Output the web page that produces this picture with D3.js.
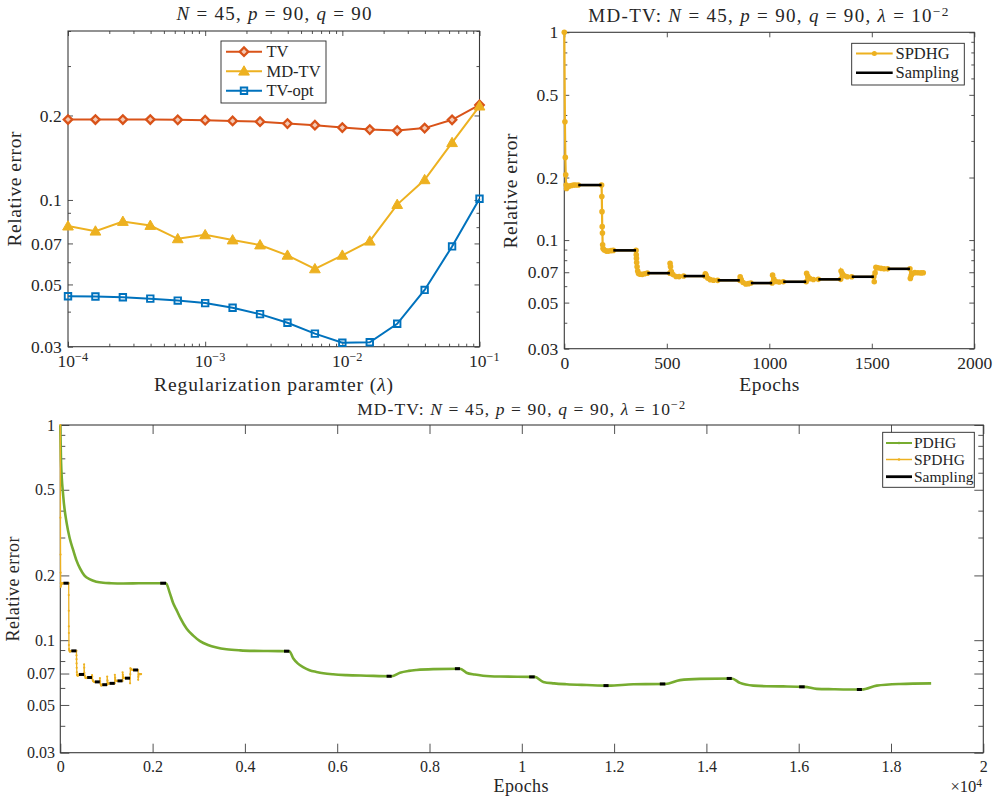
<!DOCTYPE html>
<html><head><meta charset="utf-8">
<script src="https://cdn.jsdelivr.net/npm/d3@7"></script>
<style>body{margin:0;background:#fff} svg{display:block} text{font-family:"Liberation Serif",serif;fill:#262626}</style>
</head><body><svg id="c" width="997" height="799"></svg>
<script>
// ---------------- DATA ----------------
const lambdaVals = [1.000e-4,1.585e-4,2.512e-4,3.981e-4,6.310e-4,1.000e-3,1.585e-3,2.512e-3,3.981e-3,6.310e-3,1.000e-2,1.585e-2,2.512e-2,3.981e-2,6.310e-2,1.000e-1];
const tvErr    = [0.1935,0.1935,0.1935,0.1935,0.1930,0.1924,0.1913,0.1900,0.1872,0.1847,0.1811,0.1782,0.1768,0.1803,0.1931,0.2180];
const mdtvErr  = [0.0807,0.0774,0.0838,0.0811,0.0727,0.0751,0.0720,0.0691,0.0635,0.0568,0.0635,0.0713,0.0963,0.1180,0.1600,0.2160];
const tvoptErr = [0.0454,0.0453,0.0450,0.0445,0.0438,0.0429,0.0413,0.0392,0.0365,0.0334,0.0310,0.0311,0.0362,0.0478,0.0683,0.1010];
const seriesNames = ["TV","MD-TV","TV-opt"];

const spdhgEpoch = [0,3,5,7,9,11,16,25,35,45,55,68,
  182,183,184,185,186,187,189,195,205,215,228,239,
  350,351,352,353,355,358,362,370,380,392,405,
  515,516,518,522,530,545,560,582,
  686,688,692,700,712,728,748,
  856,858,863,872,885,898,910,
  1014,1016,1022,1032,1048,1068,
  1180,1182,1188,1198,1215,1239,
  1348,1350,1356,1366,1380,1402,
  1510,1512,1516,1520,1530,1545,1560,1577,
  1686,1688,1692,1698,1710,1725,1740,1751];
const spdhgErr = [1.0,0.371,0.25,0.206,0.184,0.177,0.180,0.182,0.183,0.184,0.184,0.184,
  0.184,0.162,0.137,0.116,0.108,0.095,0.091,0.0895,0.0885,0.0885,0.089,0.0892,
  0.0892,0.085,0.0816,0.078,0.0744,0.071,0.069,0.0685,0.0684,0.0688,0.0693,
  0.0693,0.0772,0.0745,0.0705,0.0682,0.0668,0.0667,0.0671,
  0.0671,0.0688,0.0676,0.0655,0.0645,0.0641,0.0640,
  0.0640,0.0666,0.0645,0.0625,0.0615,0.0617,0.0621,
  0.0621,0.0678,0.0650,0.0632,0.0628,0.0630,
  0.0630,0.0691,0.0670,0.0652,0.0646,0.0647,
  0.0647,0.0709,0.0690,0.0673,0.0666,0.0666,
  0.0666,0.0630,0.0695,0.0739,0.0735,0.0731,0.0728,0.0727,
  0.0727,0.0654,0.0675,0.0691,0.0697,0.0696,0.0695,0.0696];
const spdhgSampStart = [68,239,405,582,748,910,1068,1239,1402,1577];
const spdhgSampEnd   = [182,350,515,686,856,1014,1180,1348,1510,1686];
const spdhgSampErr   = [0.184,0.0892,0.0693,0.0671,0.0640,0.0621,0.0630,0.0647,0.0666,0.0727];

const pdhgEpoch = [0,15,65,139,200,280,350,427,520,644,780,930,1100,1360,1700,2000,2290,
  2375,2449,2520,2600,2739,2880,3027,3200,3386,3600,3900,4200,4500,4963,
  5050,5150,5260,5400,5550,5700,5910,6200,6635,7180,
  7360,7550,7720,8080,8660,
  8800,8980,9160,9520,10280,
  10466,10700,10970,11406,11880,
  12416,13110,
  13428,13860,14550,
  14728,15016,15300,15666,16130,
  16390,16750,17370,
  17690,18195,18870];
const pdhgErr = [1.0,0.687,0.464,0.349,0.30,0.262,0.235,0.2155,0.200,0.1915,0.187,0.1848,0.184,0.1835,0.1838,0.184,0.184,
  0.165,0.148,0.138,0.127,0.113,0.105,0.099,0.095,0.0925,0.0908,0.0897,0.0892,0.089,0.0889,
  0.0822,0.0778,0.0750,0.0725,0.0712,0.0702,0.0694,0.0688,0.0684,0.0680,
  0.0706,0.0720,0.0727,0.0734,0.0737,
  0.0706,0.0692,0.0684,0.0678,0.0675,
  0.0640,0.0630,0.0624,0.0619,0.0615,
  0.0624,0.0626,
  0.0652,0.0661,0.0664,
  0.0633,0.0615,0.0611,0.0610,0.0607,
  0.0594,0.0592,0.0590,
  0.0615,0.0626,0.0630];
const pdhgSampStart = [2165,4847,7070,8550,10160,11770,12990,14440,16010,17260];
const pdhgSampEnd   = [2290,4963,7180,8660,10280,11880,13110,14550,16130,17370];
const pdhgSampErr   = [0.184,0.0889,0.0680,0.0737,0.0675,0.0615,0.0626,0.0664,0.0607,0.0590];

const errTicks = [0.03,0.05,0.07,0.1,0.2,0.5,1];
const errTickLabels = ["0.03","0.05","0.07","0.1","0.2","0.5","1"];
const errMinor = [0.04,0.06,0.08,0.09,0.3,0.4,0.6,0.7,0.8,0.9];
const lambdaTicks = [1e-4,1e-3,1e-2,1e-1];
const lambdaTickExp = ["\u22124","\u22123","\u22122","\u22121"];
const lambdaMinor = [2e-4,3e-4,4e-4,5e-4,6e-4,7e-4,8e-4,9e-4,2e-3,3e-3,4e-3,5e-3,6e-3,7e-3,8e-3,9e-3,2e-2,3e-2,4e-2,5e-2,6e-2,7e-2,8e-2,9e-2];
const epochTicks = [0,500,1000,1500,2000];
const bigEpochTicks = [0,2000,4000,6000,8000,10000,12000,14000,16000,18000,20000];
const bigEpochLabels = ["0","0.2","0.4","0.6","0.8","1","1.2","1.4","1.6","1.8","2"];

// ---------------- STYLE ----------------
const C_TV = "#D95319", C_MD = "#EDB120", C_OPT = "#0072BD", C_PD = "#77AC30", C_AX = "#262626";
const FONT = "Liberation Serif";
const svg = d3.select("#c");

function mathText(sel, parts) {
  let prevSup = false;
  parts.forEach(([t, k]) => {
    const ts = sel.append("tspan").text(t);
    if (k === 'i') ts.attr("font-style", "italic");
    if (k === 'sup') { ts.attr("font-size", "70%").attr("dy", "-0.45em"); prevSup = true; }
    else if (prevSup) { ts.attr("dy", "0.45em"); prevSup = false; }
  });
  return sel;
}
function fit(sel, w) { return sel.attr("textLength", w).attr("lengthAdjust", "spacing"); }

function axisSet(g, x, y, o) {
  const [xa, xb] = x.range(), [ya, yb] = y.range();
  const mk = (fn, scale, vals, size, tr, fmt, pad, fs) => {
    const ax = fn(scale).tickValues(vals).tickSizeInner(-size).tickSizeOuter(0).tickPadding(pad || 0)
      .tickFormat(fmt || (() => ""));
    const a = g.append("g").attr("transform", tr).call(ax);
    a.select(".domain").remove();
    a.selectAll("line").attr("stroke", C_AX).attr("stroke-width", 0.8);
    a.attr("font-family", FONT).attr("font-size", fs || 10);
    a.selectAll("text").attr("fill", C_AX);
    return a;
  };
  const xm = o.xMinor || [], ym = o.yMinor || [];
  if (xm.length) {
    mk(d3.axisBottom, x, xm, o.minor, `translate(0,${ya})`);
    mk(d3.axisTop, x, xm, o.minor, `translate(0,${yb})`);
  }
  mk(d3.axisLeft, y, ym, o.minor, `translate(${xa},0)`);
  mk(d3.axisRight, y, ym, o.minor, `translate(${xb},0)`);
  const bx = mk(d3.axisBottom, x, o.xTicks, o.major, `translate(0,${ya})`, o.xFmt, o.xPad, o.fs);
  mk(d3.axisTop, x, o.xTicks, o.major, `translate(0,${yb})`);
  const ly = mk(d3.axisLeft, y, o.yTicks, o.major, `translate(${xa},0)`, o.yFmt, o.yPad, o.fs);
  mk(d3.axisRight, y, o.yTicks, o.major, `translate(${xb},0)`);
  g.append("rect").attr("x", xa).attr("y", yb).attr("width", xb - xa).attr("height", ya - yb)
    .attr("fill", "none").attr("stroke", "#3a3a3a").attr("stroke-width", 1.1);
  return { bx, ly };
}

function legend(g, x, y, w, h, items, fs, lineX0, lineX1, textX, rowYs) {
  g.append("rect").attr("x", x).attr("y", y).attr("width", w).attr("height", h)
    .attr("fill", "#fff").attr("stroke", C_AX).attr("stroke-width", 0.9);
  items.forEach((it, i) => {
    const yy = rowYs[i];
    g.append("line").attr("x1", lineX0).attr("x2", lineX1).attr("y1", yy).attr("y2", yy)
      .attr("stroke", it.color).attr("stroke-width", it.lw);
    if (it.marker) it.marker(g, (lineX0 + lineX1) / 2, yy);
    g.append("text").attr("x", textX).attr("y", yy).attr("dy", "0.34em")
      .attr("font-size", fs).text(it.name);
  });
}

const diamond = (g, cx, cy) => g.append("path").attr("d", d3.symbol(d3.symbolSquare, 36)())
  .attr("transform", `translate(${cx},${cy}) rotate(45)`).attr("fill", "#f3c9b4").attr("stroke", C_TV).attr("stroke-width", 2.3);
const tri = (g, cx, cy) => g.append("path").attr("d", d3.symbol(d3.symbolTriangle, 50)())
  .attr("transform", `translate(${cx},${cy + 0.8})`).attr("fill", C_MD).attr("stroke", C_MD).attr("stroke-width", 1);
const sq = (g, cx, cy) => g.append("path").attr("d", d3.symbol(d3.symbolSquare, 42)())
  .attr("transform", `translate(${cx},${cy})`).attr("fill", "none").attr("stroke", C_OPT).attr("stroke-width", 1.9);

// ================= PANEL 1 =================
{
  const g = svg.append("g");
  const x = d3.scaleLog().domain([1e-4, 1e-1]).range([68, 479.5]);
  const y = d3.scaleLog().domain([0.03, 0.4]).range([346.7, 31]);
  const ax = axisSet(g, x, y, {
    xTicks: lambdaTicks, yTicks: errTicks.filter(v => v <= 0.4),
    xMinor: lambdaMinor, yMinor: errMinor.filter(v => v <= 0.4),
    major: 5, minor: 3, fs: 17.5, xPad: 7, yPad: 6.3,
    xFmt: () => "", yFmt: (d) => errTickLabels[errTicks.indexOf(d)]
  });
  ax.bx.selectAll("text").each(function (d) {
    const t = d3.select(this);
    mathText(t, [["10", ""], [lambdaTickExp[lambdaTicks.indexOf(d)], "sup"]]);
    t.attr("dy", "0.74em").attr("dx", "0.25em");
  });
  const line = d3.line().x((d, i) => x(lambdaVals[i])).y(d => y(d));
  const series = [[tvErr, C_TV, diamond], [mdtvErr, C_MD, tri], [tvoptErr, C_OPT, sq]];
  series.forEach(([arr, col, mk]) => {
    g.append("path").attr("d", line(arr)).attr("fill", "none").attr("stroke", col).attr("stroke-width", 2);
    arr.forEach((v, i) => mk(g, x(lambdaVals[i]), y(v)));
  });
  legend(g, 221, 41, 105, 62, [
    { name: seriesNames[0], color: C_TV, lw: 2, marker: diamond },
    { name: seriesNames[1], color: C_MD, lw: 2, marker: tri },
    { name: seriesNames[2], color: C_OPT, lw: 2, marker: sq }
  ], 16.5, 226, 262, 266.5, [51.7, 71.2, 90.7]);
  fit(mathText(g.append("text").attr("x", 274).attr("y", 20).attr("text-anchor", "middle").attr("font-size", 19),
    [["N", "i"], [" = 45, ", ""], ["p", "i"], [" = 90, ", ""], ["q", "i"], [" = 90", ""]]), 195);
  fit(mathText(g.append("text").attr("x", 273.5).attr("y", 391).attr("text-anchor", "middle").attr("font-size", 19.5),
    [["Regularization paramter (", ""], ["\u03BB", "i"], [")", ""]]), 239);
  fit(g.append("text").attr("transform", "translate(21,189) rotate(-90)").attr("text-anchor", "middle")
    .attr("font-size", 19.5).text("Relative error"), 115);
}

// ================= PANEL 2 =================
{
  const g = svg.append("g");
  const x = d3.scaleLinear().domain([0, 2000]).range([564.3, 974.3]);
  const y = d3.scaleLog().domain([0.03, 1]).range([348.7, 32.3]);
  axisSet(g, x, y, {
    xTicks: epochTicks, yTicks: errTicks, yMinor: errMinor,
    major: 5, minor: 3, fs: 17.5, xPad: 8, yPad: 6,
    xFmt: d => String(d), yFmt: d => errTickLabels[errTicks.indexOf(d)]
  });
  const line = d3.line().x((d, i) => x(spdhgEpoch[i])).y(d => y(d));
  g.append("path").attr("d", line(spdhgErr)).attr("fill", "none").attr("stroke", C_MD).attr("stroke-width", 2.2);
  g.selectAll(".sd").data(spdhgErr).join("circle").attr("cx", (d, i) => x(spdhgEpoch[i])).attr("cy", d => y(d))
    .attr("r", 2.8).attr("fill", C_MD);
  g.selectAll(".smp").data(spdhgSampErr).join("line")
    .attr("x1", (d, i) => x(spdhgSampStart[i])).attr("x2", (d, i) => x(spdhgSampEnd[i]))
    .attr("y1", d => y(d)).attr("y2", d => y(d)).attr("stroke", "#000").attr("stroke-width", 2.6);
  legend(g, 851.7, 43.3, 112.6, 41.7, [
    { name: "SPDHG", color: C_MD, lw: 2.2, marker: (gg, cx, cy) => gg.append("circle").attr("cx", cx).attr("cy", cy).attr("r", 2.5).attr("fill", C_MD) },
    { name: "Sampling", color: "#000", lw: 2.6 }
  ], 16.5, 856, 892.7, 895.5, [53.5, 72.8]);
  fit(mathText(g.append("text").attr("x", 768.3).attr("y", 21.5).attr("text-anchor", "middle").attr("font-size", 19),
    [["MD-TV: ", ""], ["N", "i"], [" = 45, ", ""], ["p", "i"], [" = 90, ", ""], ["q", "i"], [" = 90, ", ""], ["\u03BB", "i"], [" = 10", ""], ["\u22122", "sup"]]), 360);
  fit(g.append("text").attr("x", 769.3).attr("y", 391).attr("text-anchor", "middle").attr("font-size", 19.5).text("Epochs"), 60);
  fit(g.append("text").attr("transform", "translate(516.5,191) rotate(-90)").attr("text-anchor", "middle")
    .attr("font-size", 19.5).text("Relative error"), 115);
}

// ================= PANEL 3 =================
{
  const g = svg.append("g");
  const x = d3.scaleLinear().domain([0, 20000]).range([60.3, 983.3]);
  const y = d3.scaleLog().domain([0.03, 1]).range([752.7, 425]);
  axisSet(g, x, y, {
    xTicks: bigEpochTicks, yTicks: errTicks, yMinor: errMinor,
    major: 9, minor: 5, fs: 16, xPad: 7.6, yPad: 5.3,
    xFmt: d => bigEpochLabels[bigEpochTicks.indexOf(d)], yFmt: d => errTickLabels[errTicks.indexOf(d)]
  });
  const lpd = d3.line().curve(d3.curveMonotoneX).x((d, i) => x(pdhgEpoch[i])).y(d => y(d));
  g.append("path").attr("d", lpd(pdhgErr)).attr("fill", "none").attr("stroke", C_PD).attr("stroke-width", 2.6)
    .attr("stroke-linejoin", "round");
  const lsp = d3.line().x((d, i) => x(spdhgEpoch[i])).y(d => y(d));
  g.append("path").attr("d", lsp(spdhgErr)).attr("fill", "none").attr("stroke", C_MD).attr("stroke-width", 1.3);
  g.selectAll(".sd").data(spdhgErr).join("circle").attr("cx", (d, i) => x(spdhgEpoch[i])).attr("cy", d => y(d))
    .attr("r", 1.1).attr("fill", C_MD);
  g.selectAll(".smp1").data(spdhgSampErr).join("line")
    .attr("x1", (d, i) => x(spdhgSampStart[i])).attr("x2", (d, i) => x(spdhgSampEnd[i]))
    .attr("y1", d => y(d)).attr("y2", d => y(d)).attr("stroke", "#000").attr("stroke-width", 3);
  g.selectAll(".smp2").data(pdhgSampErr).join("line")
    .attr("x1", (d, i) => x(pdhgSampStart[i])).attr("x2", (d, i) => x(pdhgSampEnd[i]))
    .attr("y1", d => y(d)).attr("y2", d => y(d)).attr("stroke", "#000").attr("stroke-width", 3);
  const dot = col => (gg, cx, cy) => gg.append("circle").attr("cx", cx).attr("cy", cy).attr("r", 1.3).attr("fill", col);
  legend(g, 882.7, 432.3, 91.6, 55, [
    { name: "PDHG", color: C_PD, lw: 2, marker: dot(C_PD) },
    { name: "SPDHG", color: C_MD, lw: 1.5, marker: dot(C_MD) },
    { name: "Sampling", color: "#000", lw: 2.8 }
  ], 15.5, 886, 912, 914, [443, 459.5, 476.7]);
  fit(mathText(g.append("text").attr("x", 521.2).attr("y", 415).attr("text-anchor", "middle").attr("font-size", 17.5),
    [["MD-TV: ", ""], ["N", "i"], [" = 45, ", ""], ["p", "i"], [" = 90, ", ""], ["q", "i"], [" = 90, ", ""], ["\u03BB", "i"], [" = 10", ""], ["\u22122", "sup"]]), 328);
  fit(g.append("text").attr("x", 521).attr("y", 792).attr("text-anchor", "middle").attr("font-size", 18).text("Epochs"), 55);
  mathText(g.append("text").attr("x", 982).attr("y", 792).attr("text-anchor", "end").attr("font-size", 16.5),
    [["\u00D710", ""], ["4", "sup"]]);
  fit(g.append("text").attr("transform", "translate(19,589) rotate(-90)").attr("text-anchor", "middle")
    .attr("font-size", 18).text("Relative error"), 105);
}
</script></body></html>
